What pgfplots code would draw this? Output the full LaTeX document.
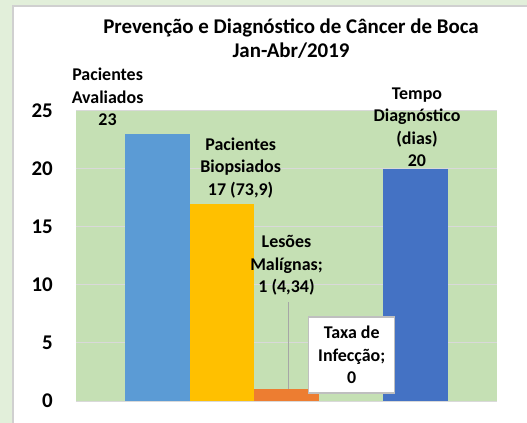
\documentclass[border=0pt]{standalone}
\usepackage{pgfplots}
\pgfplotsset{compat=1.18}
\usepackage{fontspec}
\setmainfont{Carlito}[BoldFont={Carlito Bold}]
\definecolor{outergreen}{HTML}{E2EFDA}
\definecolor{plotgreen}{HTML}{C5E0B4}
\definecolor{gridgray}{HTML}{D9D9D9}
\definecolor{bordergray}{HTML}{D0D0D0}
\definecolor{boxgray}{HTML}{BFBFBF}
\definecolor{leadgray}{HTML}{A6A6A6}
\definecolor{cblue}{HTML}{5B9BD5}
\definecolor{cyellow}{HTML}{FFC000}
\definecolor{corange}{HTML}{ED7D31}
\definecolor{cdblue}{HTML}{4472C4}
\begin{document}
\begin{tikzpicture}
\fill[outergreen] (-76bp,-22bp) rectangle (451bp,401bp);
\fill[white] (-63bp,-22bp) rectangle (451bp,395bp);
\draw[bordergray, line width=1.2bp] (-63bp,-22bp) -- (-63bp,395bp) -- (451bp,395bp);
\begin{axis}[
  scale only axis, width=421bp, height=290bp,
  xmin=-1.259, xmax=5.259, ymin=0, ymax=25,
  ytick={0,5,10,15,20,25}, xtick=\empty,
  ymajorgrids, grid style={gridgray, line width=1bp},
  axis line style={draw=none},
  major tick length=0pt,
  axis background/.style={fill=plotgreen},
  ybar, bar width=1, bar shift=0pt,
  clip=false,
  yticklabel style={font=\bfseries\fontsize{21}{25}\selectfont, inner sep=0pt, xshift=-23bp},
  /pgf/number format/assume math mode=true,
]
\addplot[fill=cblue, draw=none] coordinates {(0,23)};
\addplot[fill=cyellow, draw=none] coordinates {(1,17)};
\addplot[fill=corange, draw=none] coordinates {(2,1)};
\addplot[fill=white, draw=none, fill opacity=0] coordinates {(3,0)};
\addplot[fill=cdblue, draw=none] coordinates {(4,20)};
\draw[gridgray, line width=1bp] (axis cs:-1.259,0) -- (axis cs:5.259,0);
\draw[leadgray, line width=1bp] (axis cs:2.03,8.53) -- (axis cs:2.03,1.03);
\node[align=center, font=\bfseries\fontsize{21}{23.5}\selectfont] at (axis cs:2.07,31.25) {Prevenção e Diagnóstico de Câncer de Boca\\Jan-Abr/2019};
\node[align=center, font=\bfseries\fontsize{18}{22.5}\selectfont, inner sep=0pt] at (axis cs:-0.77,26.2) {Pacientes\\Avaliados\\23};
\node[align=center, font=\bfseries\fontsize{18}{22.5}\selectfont, inner sep=0pt] at (axis cs:1.29,20.1) {Pacientes\\Biopsiados\\17 (73,9)};
\node[align=center, font=\bfseries\fontsize{18}{22.5}\selectfont, inner sep=0pt] at (axis cs:2.0,11.7) {Lesões\\Malígnas;\\1 (4,34)};
\node[align=center, font=\bfseries\fontsize{18}{22.5}\selectfont, inner sep=0pt, draw=boxgray, line width=1.2bp, fill=white, minimum width=86bp, minimum height=76bp] at (axis cs:3.01,3.97) {Taxa de\\Infecção;\\0};
\node[align=center, font=\bfseries\fontsize{18}{22.5}\selectfont, inner sep=0pt] at (axis cs:4.02,23.6) {Tempo\\Diagnóstico\\(dias)\\20};
\end{axis}
\pgfresetboundingbox
\path[use as bounding box] (-76bp,-22bp) rectangle (451bp,401bp);
\end{tikzpicture}
\end{document}
